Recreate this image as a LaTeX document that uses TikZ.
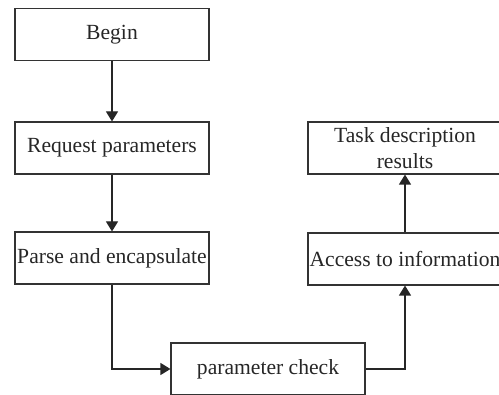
\documentclass[tikz,border=0pt]{standalone}
\usepackage{fontspec}
\setmainfont{Liberation Serif}
\usetikzlibrary{arrows.meta}
\begin{document}
\begin{tikzpicture}[x=1pt,y=-1pt,
  stepbox/.style={draw=black!80, line width=1.1pt, minimum width=194pt, minimum height=52pt,
    inner sep=0pt, align=center, font=\fontsize{21.6}{26}\selectfont, text=black!85},
  flow/.style={draw=black!85, line width=1.1pt, -{Triangle[length=10pt,width=12pt]}}]
  \useasboundingbox (0,0) rectangle (499,395);
  \clip (0,0) rectangle (499,395);
  % process boxes
  \node[stepbox] (begin)  at (112,34.5) {Begin};
  \node[stepbox] (req)    at (112,148)  {Request parameters};
  \node[stepbox] (parse)  at (112,258)  {Parse and encapsulate};
  \node[stepbox] (check)  at (268,369)  {parameter check};
  \node[stepbox] (access) at (405,259)  {Access to information};
  \node[stepbox] (task)   at (405,148)  {Task description\\results};
  % connectors
  \draw[flow] (begin.south) -- (req.north);
  \draw[flow] (req.south) -- (parse.north);
  \draw[flow] (parse.south) |- (check.west);
  \draw[flow] (check.east) -| (access.south);
  \draw[flow] (access.north) -- (task.south);
\end{tikzpicture}
\end{document}
